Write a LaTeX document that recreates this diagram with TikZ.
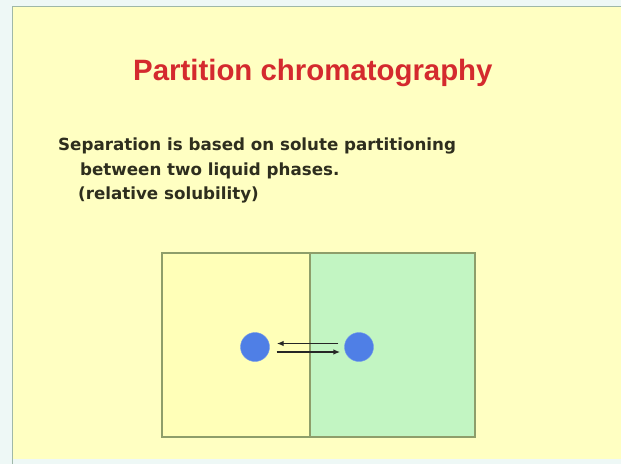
\documentclass[tikz,border=0pt]{standalone}
\usepackage{fontspec}
\setmainfont{Liberation Sans}
\newfontfamily\bodyfont{DejaVu Sans}
\definecolor{pagebg}{HTML}{EEF8F6}
\definecolor{slidebg}{HTML}{FFFFC2}
\definecolor{frame}{HTML}{9FB8A8}
\definecolor{titlered}{HTML}{D42A2E}
\definecolor{bodytext}{HTML}{2E2E1E}
\definecolor{phaseA}{HTML}{FFFFB8}
\definecolor{phaseB}{HTML}{C2F5C2}
\definecolor{phaseline}{HTML}{8E9E6A}
\definecolor{solute}{HTML}{4F7FE6}
\usetikzlibrary{arrows.meta}
\tikzset{
  bodyline/.style={anchor=base west, text=bodytext, font=\bodyfont\bfseries\fontsize{16.7}{18}\selectfont, inner sep=0pt},
  phasebox/.style={draw=phaseline, line width=1.6pt},
  solutedot/.style={circle, fill=solute, draw=solute!80!white, minimum size=29pt, inner sep=0pt},
  flow/.style={-{Latex[length=7pt,width=5.5pt]}, line width=1.4pt, black!85},
}
\begin{document}
\begin{tikzpicture}[x=1pt,y=-1pt]
\useasboundingbox (0,0) rectangle (621,464);
\fill[pagebg] (0,0) rectangle (621,464);
\fill[slidebg] (12,6) rectangle (621,459);
\draw[frame, line width=1.5pt] (12.5,464) -- (12.5,6.5) -- (621,6.5);
\node[anchor=base west, text=titlered, font=\bfseries\fontsize{29.4}{32}\selectfont, inner sep=0pt] (title) at (133,80) {Partition chromatography};
\node[bodyline] (l1) at (58,150) {Separation is based on solute partitioning};
\node[bodyline] (l2) at (80,175) {between two liquid phases.};
\node[bodyline] (l3) at (78,199) {(relative solubility)};
\fill[phaseA] (162,253) rectangle (310,437);
\fill[phaseB] (310,253) rectangle (475,437);
\draw[phasebox] (162,253) rectangle (310,437);
\draw[phasebox] (310,253) rectangle (475,437);
\node[solutedot] (s1) at (255,347) {};
\node[solutedot] (s2) at (359,347) {};
\coordinate (a1) at ([yshift=3.5pt]s1.east);
\coordinate (a2) at ([yshift=3.5pt]s2.west);
\coordinate (b1) at ([yshift=-5pt]s1.east);
\coordinate (b2) at ([yshift=-5pt]s2.west);
\draw[flow] ([xshift=-6pt]a2) -- ([xshift=7pt]a1);
\draw[flow] ([xshift=7pt]b1) -- ([xshift=-4pt]b2);
\end{tikzpicture}
\end{document}
